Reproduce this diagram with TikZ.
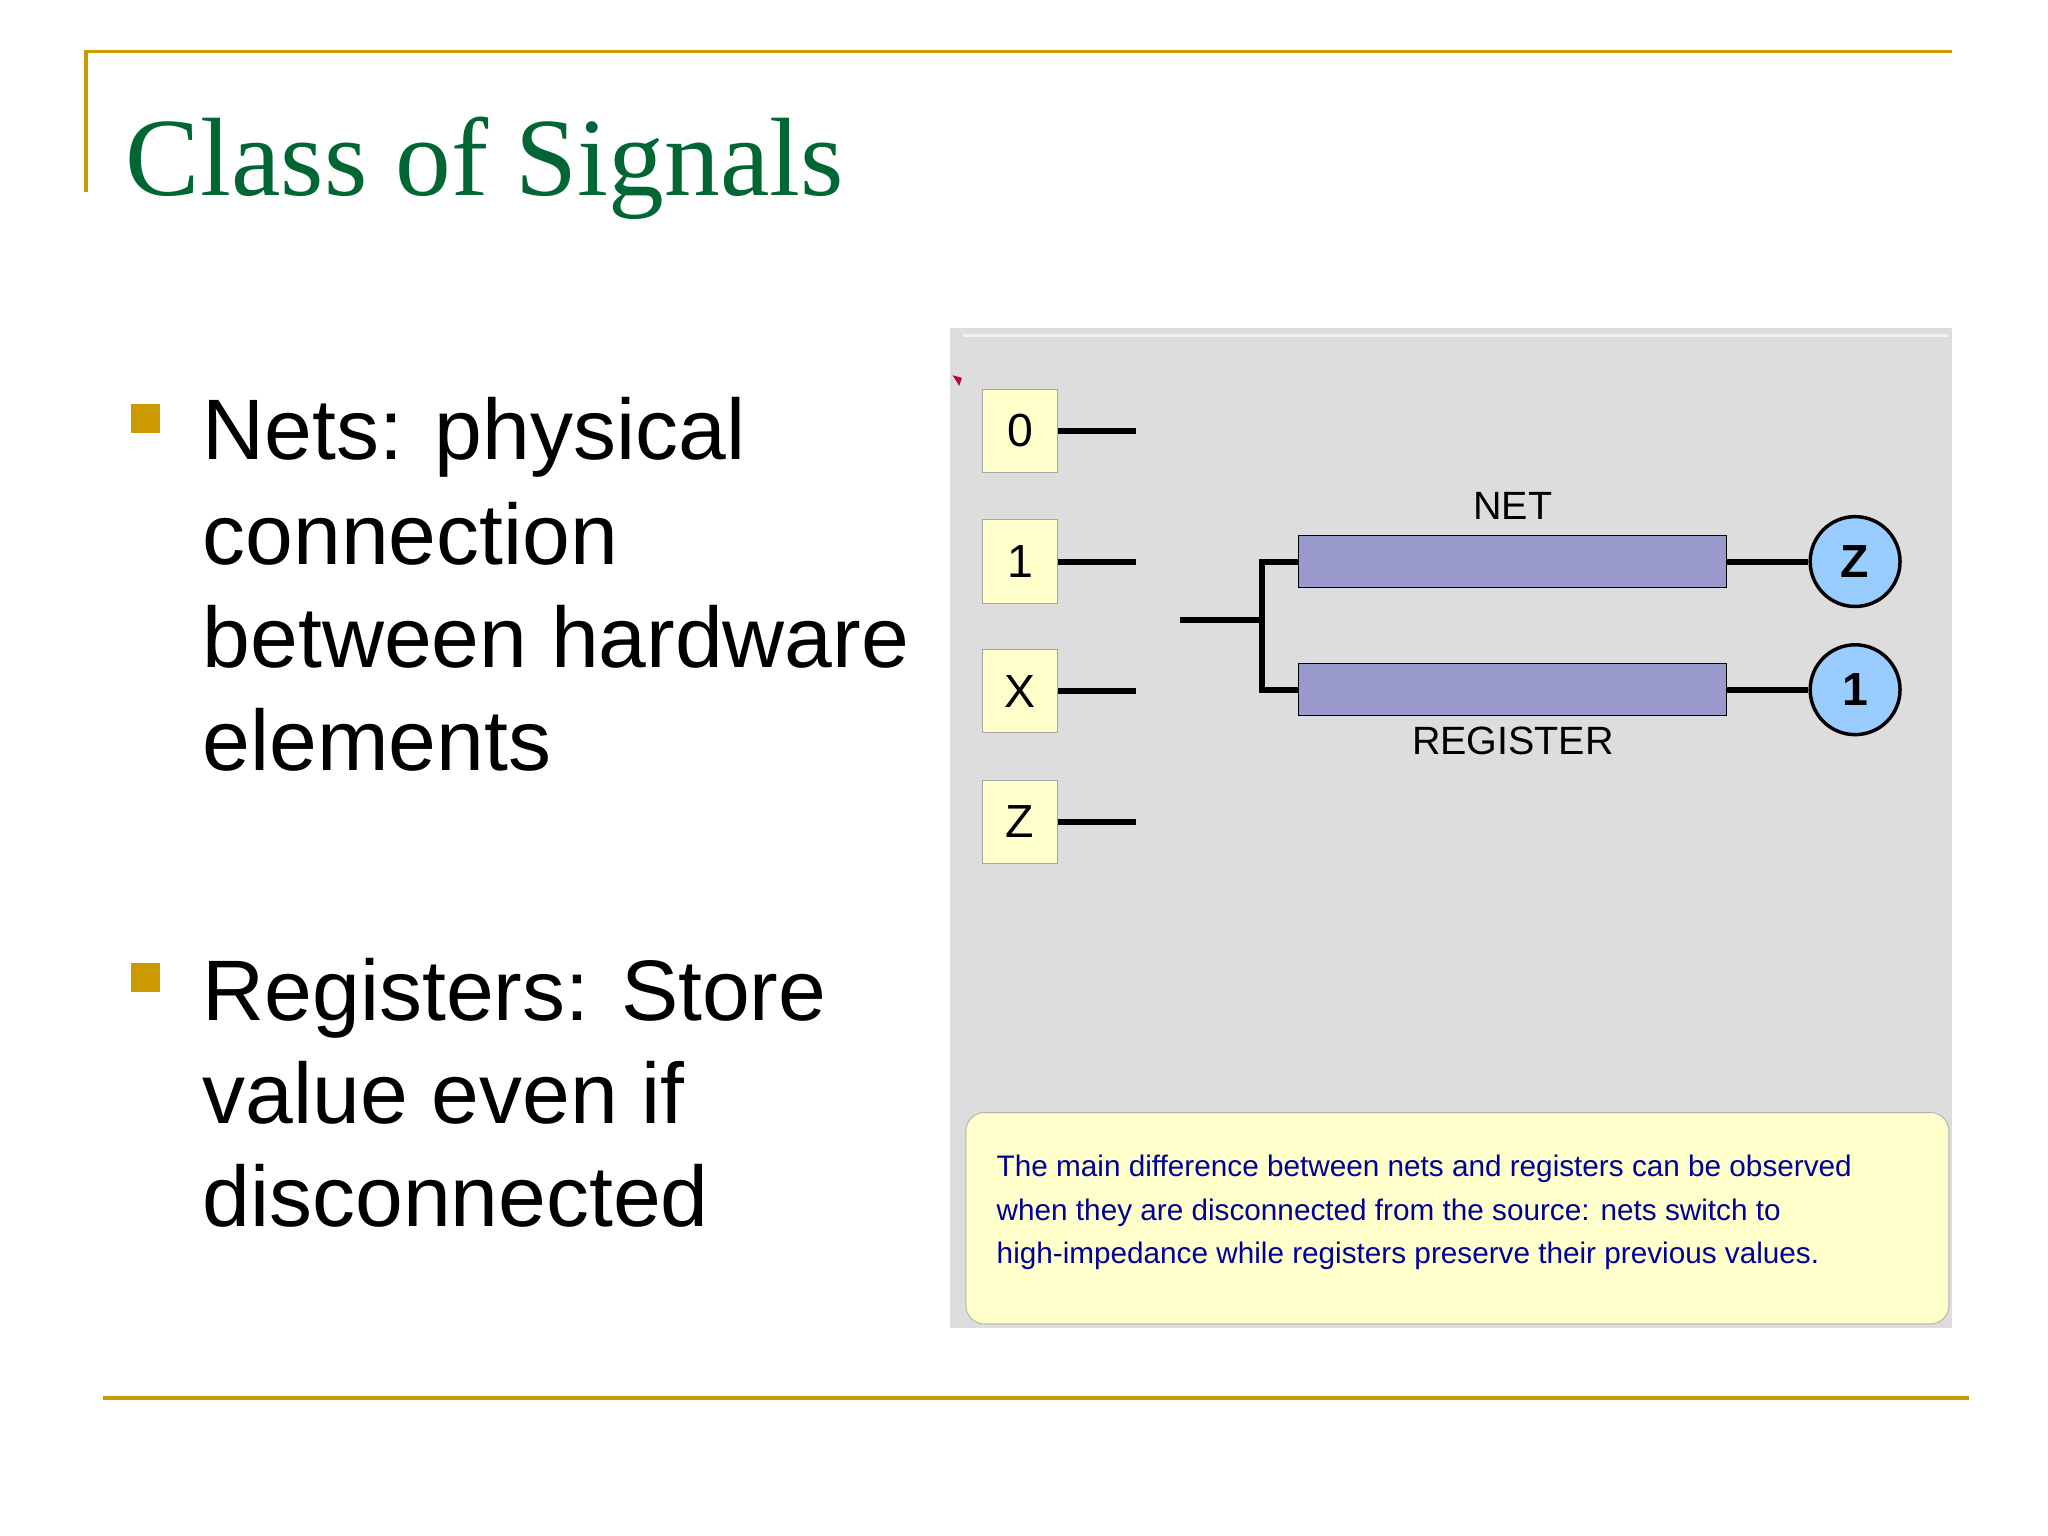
\documentclass[tikz,border=0pt]{standalone}
\usepackage{fontspec}
\setmainfont{Liberation Sans}
\newfontfamily\titlefont{Liberation Serif}
\definecolor{gold}{RGB}{204,153,0}
\definecolor{titlegreen}{RGB}{0,102,51}
\definecolor{panel}{RGB}{221,221,221}
\definecolor{lyellow}{RGB}{255,255,204}
\definecolor{barc}{RGB}{153,153,204}
\definecolor{circc}{RGB}{153,204,255}
\definecolor{navy}{RGB}{0,0,153}
\tikzset{
 valbox/.style={draw=gray!70,fill=lyellow,minimum width=57*0.02cm,minimum height=63*0.02cm,inner sep=0,font=\fontsize{20}{20}\selectfont},
 wire/.style={line width=2.6pt},
 bar/.style={draw=black,fill=barc,minimum width=324*0.02cm,minimum height=39*0.02cm,inner sep=0},
 outc/.style={circle,draw=black,line width=1.5pt,fill=circc,minimum size=68*0.02cm,inner sep=0,font=\bfseries\fontsize{20}{20}\selectfont},
 bullettxt/.style={anchor=base west,font=\fontsize{37}{37}\selectfont,inner sep=0},
 sq/.style={fill=gold,minimum size=22*0.02cm,inner sep=0}
}
\begin{document}
\begin{tikzpicture}[x=0.02cm,y=-0.02cm]
\useasboundingbox (0,0) rectangle (1550,1162);
\fill[white] (0,0) rectangle (1550,1162);
\draw[gold,line width=1.6pt] (65,145) -- (65,39) -- (1477,39);
\draw[gold,line width=1.6pt] (78,1058) -- (1490,1058);
\node[anchor=base west,inner sep=0,text=titlegreen,font=\titlefont\fontsize{48}{48}\selectfont] (title) at (95,148) {Class of Signals};
\node[sq] (b1) at (110,317) {};
\node[sq] (b2) at (110,740) {};
\node[bullettxt] (t1) at (153,348) {Nets: physical};
\node[bullettxt] (t2) at (153,427) {connection};
\node[bullettxt] (t3) at (153,505) {between hardware};
\node[bullettxt] (t4) at (153,583) {elements};
\node[bullettxt] (t5) at (153,772) {Registers: Store};
\node[bullettxt] (t6) at (153,850) {value even if};
\node[bullettxt] (t7) at (153,928) {disconnected};
% panel
\fill[panel] (719,248) rectangle (1477,1005);
\draw[white!90!gray,line width=1pt] (729,254) -- (1474,254);
\fill[purple] (721,284) -- (728,286) -- (726,292) -- cycle;
\foreach \n/\y/\t in {v0/326/0,v1/425/1,vx/523/X,vz/622/Z}{
 \node[valbox] (\n) at (772,\y) {\t};
 \coordinate (\n e) at (860,\y);
 \draw[wire] (\n.east) -- (\n e);
}
\coordinate (src) at (893,469);
\coordinate (jn) at (955,469);
\node[bar] (net) at (1145,425) {};
\node[bar] (reg) at (1145,522) {};
\draw[wire] (src) -- (jn);
\draw[wire] (net.west) -| (jn) |- (reg.west);
\node[outc] (oz) at (1404,425) {Z};
\node[outc] (o1) at (1404,522) {1};
\draw[wire] (net.east) -- (oz.west);
\draw[wire] (reg.east) -- (o1.west);
\node[font=\fontsize{17}{17}\selectfont] (netl) at (1145,383) {NET};
\node[font=\fontsize{17}{17}\selectfont] (regl) at (1145,561) {REGISTER};
\node[draw=gray!60,fill=lyellow,rounded corners=8pt,minimum width=744*0.02cm,minimum height=160*0.02cm] (note) at (1103,922) {};
\node[anchor=north west,align=left,text=navy,inner sep=0,font=\fontsize{12.8}{18.7}\selectfont] (notet) at (754,874)
{The main difference between nets and registers can be observed\\when they are disconnected from the source: nets switch to\\high-impedance while registers preserve their previous values.};
\end{tikzpicture}
\end{document}
